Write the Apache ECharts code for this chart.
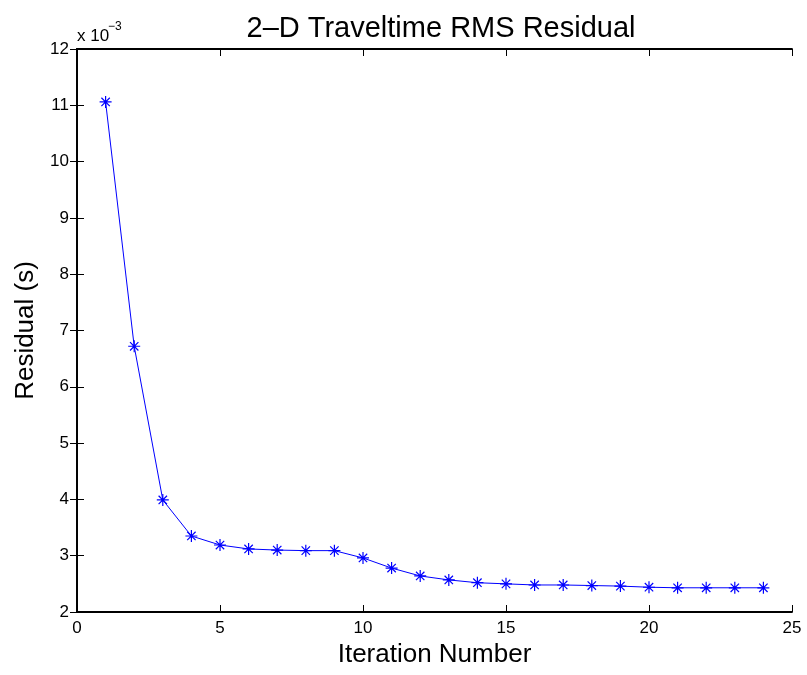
<!DOCTYPE html>
<html>
<head>
<meta charset="utf-8">
<script src="https://cdn.jsdelivr.net/npm/echarts@6/dist/echarts.min.js"></script>
<style>
  html, body { margin: 0; padding: 0; background: #fff; }
  #chart { width: 807px; height: 675px; }
</style>
</head>
<body>
<div id="chart"></div>
<script>
// iteration numbers
var iterations = [1, 2, 3, 4, 5, 6, 7, 8, 9, 10, 11, 12, 13, 14, 15, 16, 17, 18, 19, 20, 21, 22, 23, 24];
// RMS residual, seconds
var residuals = [0.01106, 0.00672, 0.00399, 0.00335, 0.00319, 0.00312, 0.00310, 0.00309, 0.00309,
  0.00296, 0.00278, 0.00264, 0.00257, 0.00252, 0.00250, 0.00248, 0.00248, 0.00247, 0.00246,
  0.00244, 0.00243, 0.00243, 0.00243, 0.00243];

var FONT = 'Liberation Sans, Arial, Helvetica, sans-serif';
var chart = echarts.init(document.getElementById('chart'));

var points = iterations.map(function (x, i) { return [x, residuals[i]]; });

// matlab style '*' marker
var star = 'path://M5,0 L5,10 M0,5 L10,5 M1.5,1.5 L8.5,8.5 M1.5,8.5 L8.5,1.5';

var tickStyle = { show: true, inside: true, length: 7, lineStyle: { color: '#000', width: 1 } };
var lineStyle = { show: true, lineStyle: { color: '#000', width: 1.8 } };

var option = {
  backgroundColor: '#fff',
  animation: false,
  title: {
    text: '2\u2013D Traveltime RMS Residual',
    left: 436, top: 9, textAlign: 'center',
    textStyle: { fontFamily: FONT, fontSize: 29, fontWeight: 'normal', color: '#000' }
  },
  graphic: [{
    type: 'text', x: 77, y: 45,
    style: { text: 'x 10', fontFamily: FONT, fontSize: 17, fill: '#000', verticalAlign: 'bottom' }
  }, {
    type: 'text', x: 108, y: 33,
    style: { text: '\u22123', fontFamily: FONT, fontSize: 12, fill: '#000', verticalAlign: 'bottom' }
  }],
  grid: { left: 77, right: 15, top: 49, bottom: 63 },
  xAxis: [{
    type: 'value', min: 0, max: 25, interval: 5,
    name: 'Iteration Number', nameLocation: 'middle', nameGap: 30,
    nameTextStyle: { fontFamily: FONT, fontSize: 26, color: '#000' },
    axisLine: lineStyle, axisTick: tickStyle, splitLine: { show: false },
    axisLabel: { fontFamily: FONT, fontSize: 17, color: '#000', margin: 8 }
  }, {
    type: 'value', position: 'top', min: 0, max: 25, interval: 5,
    axisLine: lineStyle, axisTick: tickStyle, splitLine: { show: false },
    axisLabel: { show: false }
  }],
  yAxis: [{
    type: 'value', min: 0.002, max: 0.012, interval: 0.001,
    name: 'Residual (s)', nameLocation: 'middle', nameGap: 38,
    nameTextStyle: { fontFamily: FONT, fontSize: 26, color: '#000' },
    axisLine: lineStyle, axisTick: tickStyle, splitLine: { show: false },
    axisLabel: {
      fontFamily: FONT, fontSize: 17, color: '#000', margin: 8,
      formatter: function (v) { return String(Math.round(v * 1000)); }
    }
  }, {
    type: 'value', position: 'right', min: 0.002, max: 0.012, interval: 0.001,
    axisLine: lineStyle, axisTick: tickStyle, splitLine: { show: false },
    axisLabel: { show: false }
  }],
  series: [{
    type: 'line',
    data: points,
    xAxisIndex: 0, yAxisIndex: 0,
    symbol: star, symbolSize: 12,
    itemStyle: { color: 'rgba(0,0,0,0)', borderColor: '#0000ff', borderWidth: 1.2 },
    lineStyle: { color: '#0000ff', width: 1 }
  }]
};
chart.setOption(option);
</script>
</body>
</html>
